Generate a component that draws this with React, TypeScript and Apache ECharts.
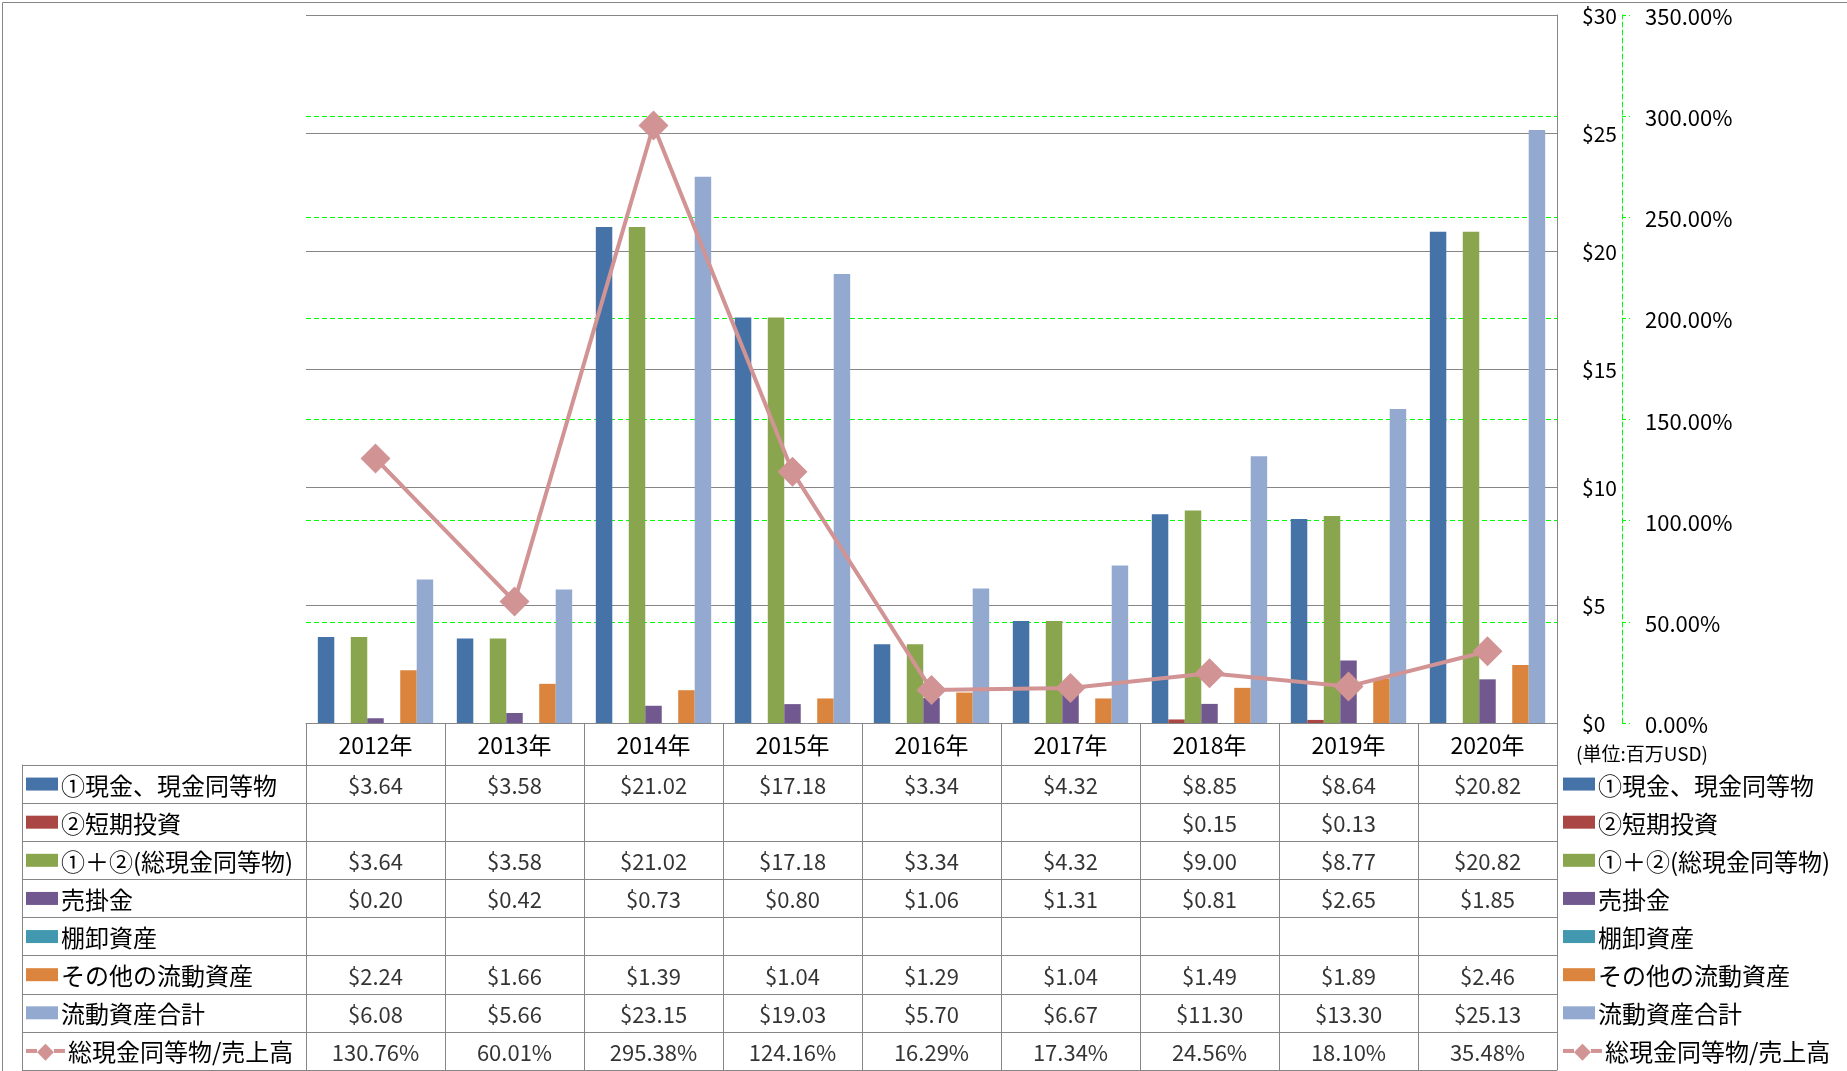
import React, { useEffect, useRef } from "react";
import * as echarts from "echarts";

const years = ["2012年", "2013年", "2014年", "2015年", "2016年", "2017年", "2018年", "2019年", "2020年"];
const cash = [3.64, 3.58, 21.02, 17.18, 3.34, 4.32, 8.85, 8.64, 20.82];
const shortTerm = [null, null, null, null, null, null, 0.15, 0.13, null];
const totalCash = [3.64, 3.58, 21.02, 17.18, 3.34, 4.32, 9.0, 8.77, 20.82];
const receivables = [0.2, 0.42, 0.73, 0.8, 1.06, 1.31, 0.81, 2.65, 1.85];
const inventory = [null, null, null, null, null, null, null, null, null];
const otherCurrent = [2.24, 1.66, 1.39, 1.04, 1.29, 1.04, 1.49, 1.89, 2.46];
const totalCurrent = [6.08, 5.66, 23.15, 19.03, 5.7, 6.67, 11.3, 13.3, 25.13];
const ratio = [130.76, 60.01, 295.38, 124.16, 16.29, 17.34, 24.56, 18.1, 35.48];

const seriesNames = [
  "①現金、現金同等物",
  "②短期投資",
  "①＋②(総現金同等物)",
  "売掛金",
  "棚卸資産",
  "その他の流動資産",
  "流動資産合計",
  "総現金同等物/売上高",
];
const colors = ["#4572A7", "#AA4643", "#89A54E", "#71588F", "#4198AF", "#DB843D", "#93A9CF", "#D19393"];
const barData = [cash, shortTerm, totalCash, receivables, inventory, otherCurrent, totalCurrent];
const dollarTicks = { min: 0, max: 30, interval: 5 };
const pctTicks = { min: 0, max: 350, interval: 50 };

const FONT = "'Noto Sans CJK JP', 'Noto Sans', sans-serif";
const GRAY = "#868686";
const LIME = "#00FF00";

export default function App() {
  const ref = useRef<HTMLDivElement>(null);
  useEffect(() => {
    document.body.style.margin = "0";
    const chart = echarts.init(ref.current!, undefined, { renderer: "svg" });

    const rich: any = {
      t: { fontSize: 24, fontFamily: FONT, color: "#000", padding: [0, 0, 0, 3] },
      lnl: { width: 11, height: 4, backgroundColor: colors[7] },
      dm: { fontSize: 22, color: colors[7], fontFamily: "DejaVu Sans" },
    };
    colors.forEach((c, i) => {
      rich["b" + i] = { width: 32, height: 13, backgroundColor: c };
    });
    const legendFmt = (_v: string, idx: number) => {
      if (idx === 7) return `{lnl|}{dm|◆}{lnl|}{t|${seriesNames[idx]}}`;
      return `{b${idx}|}{t|${seriesNames[idx]}}`;
    };

    const fmtD = (v: number | null) => (v == null ? "" : "$" + v.toFixed(2));
    const tableRows: string[][] = [
      ...barData.map((arr) => arr.map((v) => fmtD(v as any))),
      ratio.map((v) => v.toFixed(2) + "%"),
    ];
    const tableData: any[] = [];
    tableRows.forEach((row, r) =>
      row.forEach((txt, c) => {
        if (txt) tableData.push({ value: [c, r], txt });
      })
    );

    const bars = barData.map((arr, i) => ({
      type: "bar",
      name: seriesNames[i],
      data: arr,
      xAxisIndex: 0,
      yAxisIndex: 0,
      barGap: "0%",
      barCategoryGap: "17%",
      itemStyle: { color: colors[i] },
      z: 2,
    }));

    chart.setOption({
      animation: false,
      textStyle: { fontFamily: FONT },
      graphic: [
        {
          type: "rect",
          left: 0,
          top: 0,
          shape: { width: 1846, height: 1070 },
          style: { fill: "none", stroke: GRAY, lineWidth: 1 },
          silent: true,
        },
        {
          type: "text",
          left: 1576,
          top: 743,
          style: { text: "(単位:百万USD)", fontSize: 19, fill: "#000", fontFamily: FONT },
        },
      ],
      grid: [
        { left: 306, right: 290, top: 15, bottom: 348 },
        { left: 306, right: 290, top: 765, bottom: 1 },
      ],
      xAxis: [
        {
          type: "category",
          gridIndex: 0,
          data: years,
          axisLine: { lineStyle: { color: GRAY, width: 1 } },
          axisTick: { show: true, length: 42, interval: 0, lineStyle: { color: GRAY } },
          axisLabel: { fontSize: 23, color: "#000", margin: 9, interval: 0, fontFamily: FONT },
        },
        {
          type: "category",
          gridIndex: 1,
          data: years,
          axisLine: { show: true, lineStyle: { color: GRAY } },
          axisTick: { show: false },
          axisLabel: { show: false },
          splitLine: { show: true, interval: 0, lineStyle: { color: GRAY } },
        },
      ],
      yAxis: [
        {
          type: "value",
          gridIndex: 0,
          position: "right",
          ...dollarTicks,
          axisLine: { show: true, lineStyle: { color: GRAY } },
          axisTick: { show: false },
          axisLabel: { fontSize: 21, color: "#000", margin: 25, formatter: (v: number) => "$" + v, fontFamily: FONT },
          splitLine: { show: true, lineStyle: { color: GRAY, width: 1 } },
        },
        {
          type: "value",
          gridIndex: 0,
          position: "right",
          offset: 65,
          ...pctTicks,
          axisLine: { show: true, lineStyle: { color: LIME, type: [5, 3] } },
          axisTick: { show: true, length: 8, lineStyle: { color: LIME, type: [4, 3] } },
          axisLabel: { fontSize: 22, color: "#000", margin: 23, formatter: (v: number) => v.toFixed(2) + "%", fontFamily: FONT },
          splitLine: { show: true, showMaxLine: false, showMinLine: false, lineStyle: { color: LIME, type: [5, 3], width: 1 } },
        },
        {
          type: "category",
          gridIndex: 1,
          inverse: true,
          position: "left",
          data: seriesNames,
          axisLine: { show: true, lineStyle: { color: GRAY } },
          axisTick: { show: true, length: 284, interval: 0, lineStyle: { color: GRAY } },
          axisLabel: { align: "left", margin: 280, formatter: legendFmt, rich, interval: 0 },
          splitLine: { show: true, interval: 0, lineStyle: { color: GRAY } },
        },
        {
          type: "category",
          gridIndex: 1,
          inverse: true,
          position: "left",
          offset: 284,
          data: seriesNames,
          axisLine: { show: true, lineStyle: { color: GRAY } },
          axisTick: { show: false },
          axisLabel: { show: false },
          splitLine: { show: false },
        },
        {
          type: "category",
          gridIndex: 1,
          inverse: true,
          position: "right",
          data: seriesNames,
          axisLine: { show: false },
          axisTick: { show: false },
          axisLabel: { align: "left", margin: 6, formatter: legendFmt, rich, interval: 0 },
          splitLine: { show: false },
        },
      ],
      series: [
        ...bars,
        {
          type: "line",
          name: seriesNames[7],
          data: ratio,
          xAxisIndex: 0,
          yAxisIndex: 1,
          symbol: "diamond",
          symbolSize: 30,
          lineStyle: { color: colors[7], width: 4 },
          itemStyle: { color: colors[7] },
          z: 5,
        },
        {
          type: "scatter",
          xAxisIndex: 1,
          yAxisIndex: 2,
          data: tableData,
          symbolSize: 1,
          itemStyle: { color: "transparent" },
          label: {
            show: true,
            position: "inside",
            fontSize: 22,
            color: "#000",
            fontFamily: FONT,
            formatter: (p: any) => p.data.txt,
          },
          silent: true,
        },
      ],
    });
    return () => chart.dispose();
  }, []);
  return <div ref={ref} style={{ position: "fixed", left: 0, top: 0, width: 1847, height: 1071 }} />;
}
